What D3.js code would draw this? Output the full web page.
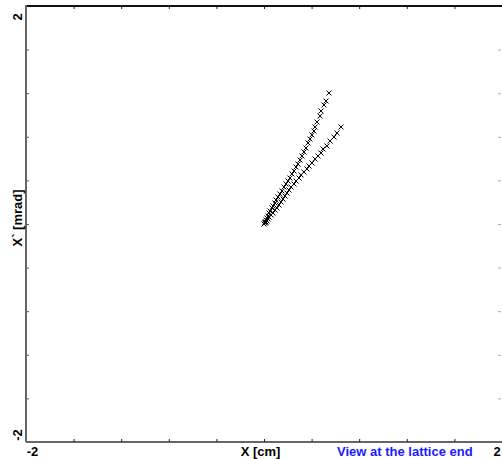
<!DOCTYPE html>
<html><head><meta charset="utf-8">
<script src="https://cdn.jsdelivr.net/npm/d3@7"></script>
<style>html,body{margin:0;padding:0;background:#fff;}svg{display:block;}</style>
</head><body>
<script>
// Data (X [cm], X' [mrad])
const branchA_x = [0.546,0.521,0.504,0.479,0.471,0.445,0.429,0.420,0.403,0.387,0.370,0.353,0.336,0.319,0.303,0.286,0.269,0.252,0.235,0.218,0.202,0.185,0.168,0.151,0.134,0.118,0.101,0.092,0.076,0.067,0.050,0.042,0.034,0.025,0.017,0.008,0.000];
const branchA_y = [1.202,1.128,1.092,1.037,0.991,0.936,0.890,0.853,0.817,0.780,0.743,0.697,0.661,0.624,0.587,0.550,0.523,0.486,0.459,0.422,0.394,0.367,0.339,0.303,0.275,0.248,0.220,0.193,0.165,0.147,0.119,0.101,0.073,0.055,0.037,0.018,0.000];
const branchB_x = [0.647,0.613,0.588,0.555,0.529,0.496,0.479,0.454,0.429,0.403,0.378,0.361,0.336,0.311,0.294,0.269,0.252,0.227,0.210,0.193,0.176,0.160,0.143,0.126,0.109,0.092,0.076,0.059,0.042,0.034,0.025,0.017,0.008];
const branchB_y = [0.890,0.835,0.798,0.761,0.716,0.688,0.651,0.624,0.596,0.560,0.532,0.505,0.477,0.450,0.422,0.394,0.367,0.339,0.312,0.284,0.257,0.229,0.202,0.174,0.147,0.128,0.101,0.083,0.064,0.046,0.028,0.018,0.009];
const xDomain = [-2, 2];
const yDomain = [-2, 2];
const tickValues = [-1.6,-1.2,-0.8,-0.4,0,0.4,0.8,1.2,1.6];
const xMinLabel = "-2", xMaxLabel = "2", yMinLabel = "-2", yMaxLabel = "2";
const xTitle = "X [cm]";
const yTitle = "X` [mrad]";
const subTitle = "View at the lattice end";

const W = 502, H = 459;
const svg = d3.select("body").append("svg").attr("width", W).attr("height", H)
  .style("font-family", "'Liberation Sans', Arial, sans-serif").style("font-weight", "bold").style("font-size", "13px");

const x = d3.scaleLinear().domain(xDomain).range([26, 502]);
const y = d3.scaleLinear().domain(yDomain).range([442, 6]);

// Axes (ticks pointing inward)
const gB = svg.append("g").attr("transform", `translate(0,${y(-2)})`)
  .call(d3.axisBottom(x).tickValues(tickValues).tickSize(-3).tickFormat(""));
const gT = svg.append("g").attr("transform", `translate(0,${y(2)})`)
  .call(d3.axisTop(x).tickValues(tickValues).tickSize(-3).tickFormat(""));
const gL = svg.append("g").attr("transform", `translate(${x(-2)},0)`)
  .call(d3.axisLeft(y).tickValues(tickValues).tickSize(-3).tickFormat(""));
const gR = svg.append("g").attr("transform", `translate(${x(2)-1},0)`)
  .call(d3.axisRight(y).tickValues(tickValues).tickSize(-3).tickFormat(""));
[gB, gT, gL, gR].forEach(g => g.selectAll("path").remove());
gB.selectAll("line").attr("stroke", "#222");
gT.selectAll("line").attr("stroke", "#222");
gL.selectAll("line").attr("stroke", "#555");
gR.selectAll("line").attr("stroke", "#aaa");

// Frame lines
svg.append("line").attr("x1", x(-2)).attr("x2", x(2)).attr("y1", y(2)).attr("y2", y(2))
  .attr("stroke", "#111").attr("stroke-width", 2);
svg.append("line").attr("x1", x(-2)).attr("x2", x(2)).attr("y1", y(-2)).attr("y2", y(-2))
  .attr("stroke", "#333").attr("stroke-width", 1.5);
svg.append("line").attr("x1", x(-2)).attr("x2", x(-2)).attr("y1", y(2) - 1).attr("y2", y(-2))
  .attr("stroke", "#666").attr("stroke-width", 2);

// Markers
const pts = branchA_x.map((v, i) => [v, branchA_y[i]])
  .concat(branchB_x.map((v, i) => [v, branchB_y[i]]));
const s = 2.5;
svg.append("g").selectAll("path").data(pts).join("path")
  .attr("d", d => {
    const px = x(d[0]), py = y(d[1]);
    return `M${px - s},${py - s}L${px + s},${py + s}M${px - s},${py + s}L${px + s},${py - s}`;
  })
  .attr("stroke", "#000").attr("stroke-width", 1).attr("fill", "none");

// Labels
svg.append("text").attr("transform", `translate(22,17) rotate(-90)`).attr("text-anchor", "middle").text(yMaxLabel);
svg.append("text").attr("transform", `translate(22,435) rotate(-90)`).attr("text-anchor", "middle").text(yMinLabel);
svg.append("text").attr("transform", `translate(22,218) rotate(-90)`).attr("text-anchor", "middle").text(yTitle);
svg.append("text").attr("x", 32.5).attr("y", 456).attr("text-anchor", "middle").text(xMinLabel);
svg.append("text").attr("x", 497).attr("y", 456).attr("text-anchor", "middle").text(xMaxLabel);
svg.append("text").attr("x", 260.5).attr("y", 456).attr("text-anchor", "middle").text(xTitle);
svg.append("text").attr("x", 337).attr("y", 456).attr("text-anchor", "start").attr("fill", "#1a1aff").text(subTitle);
</script>
</body></html>
